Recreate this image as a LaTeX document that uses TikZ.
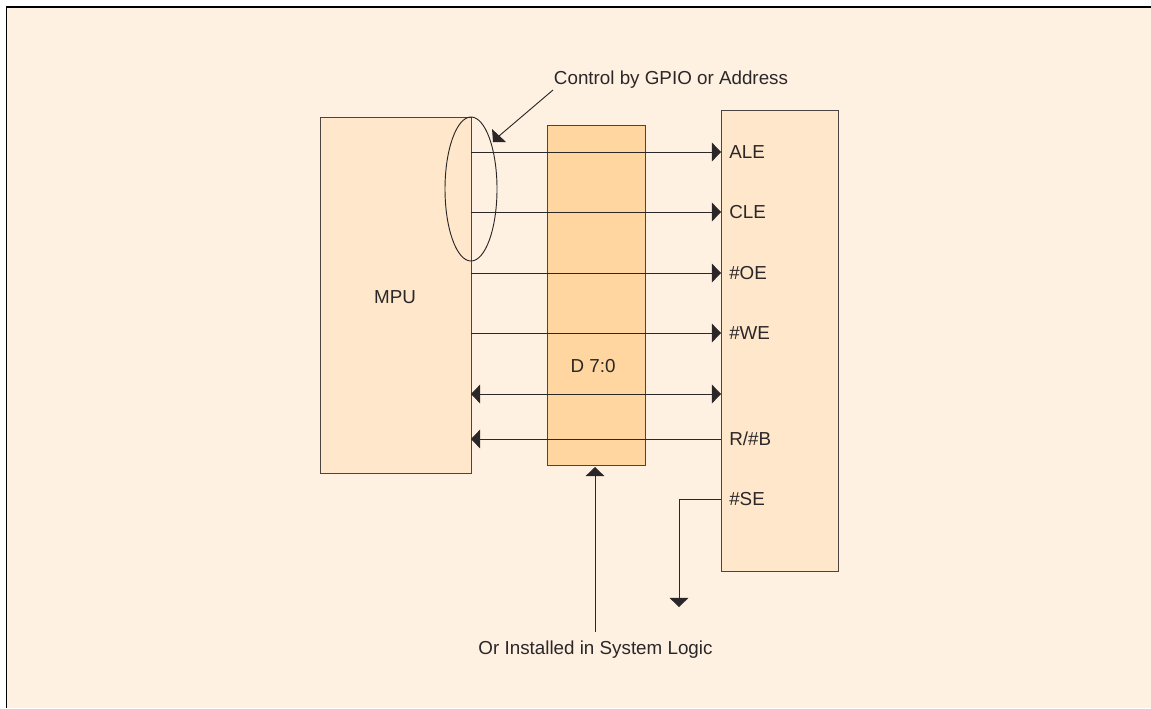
\documentclass[tikz,border=0pt]{standalone}
\usepackage{fontspec}
\setmainfont{Liberation Sans}
\usetikzlibrary{arrows.meta,shapes.geometric}

\definecolor{pagebg}{HTML}{FFF1E2}
\definecolor{chipbg}{HTML}{FFE7CC}
\definecolor{latchbg}{HTML}{FFD6A0}
\definecolor{inkc}{HTML}{2B2728}

\tikzset{
  chip/.style={draw=inkc!85!chipbg,fill=chipbg,line width=0.65pt,inner sep=0pt,outer sep=0pt},
  sig/.style={draw=inkc,line width=0.7pt},
  arr/.style={sig,-{Triangle[length=6.8pt,width=14pt]}},
  arrboth/.style={sig,{Triangle[length=6.8pt,width=14pt]}-{Triangle[length=6.8pt,width=14pt]}},
  lbl/.style={text=inkc,font=\fontsize{14.1pt}{16pt}\selectfont,inner sep=0pt,anchor=base},
  pin/.style={lbl,anchor=base west},
}

\begin{document}
\begin{tikzpicture}[x=0.75pt,y=-0.75pt]

\useasboundingbox (0,0) rectangle (1151,708);

% 背景和外框
\fill[pagebg] (7,7) rectangle (1151,708);
\draw[black,line width=1.4pt] (6.5,708) -- (6.5,6.8) -- (1151,6.8);

% 三个方框
\node[chip,anchor=north west,minimum width=113.25pt,minimum height=267pt] (mpu) at (320,117) {};
\node[chip,fill=latchbg,anchor=north west,minimum width=73.5pt,minimum height=255pt] (latch) at (547,125) {};
\node[chip,anchor=north west,minimum width=87.75pt,minimum height=345.75pt] (nand) at (721,110) {};

\node[lbl] (mpulbl) at (395,303) {MPU};
\node[lbl] (latchlbl) at (593,372) {D 7:0};

% 右侧引脚
\node[pin] (ale) at (729,158) {ALE};
\node[pin] (cle) at (729,218) {CLE};
\node[pin] (oe) at (729,279) {\#OE};
\node[pin] (we) at (729,339) {\#WE};
\node[pin] (rb) at (729,445) {R/\#B};
\node[pin] (se) at (729,505) {\#SE};

% 信号线的高度
\coordinate (aley) at (600,152);
\coordinate (cley) at (600,212);
\coordinate (oey) at (600,273);
\coordinate (wey) at (600,333);
\coordinate (dbus) at (600,394);
\coordinate (rby) at (600,439);
\coordinate (sey) at (600,499);

% 信号线
\draw[arr] (mpu.east |- aley) -- (nand.west |- aley);
\draw[arr] (mpu.east |- cley) -- (nand.west |- cley);
\draw[arr] (mpu.east |- oey) -- (nand.west |- oey);
\draw[arr] (mpu.east |- wey) -- (nand.west |- wey);
\draw[arrboth] (mpu.east |- dbus) -- (nand.west |- dbus);
\draw[arr] (nand.west |- rby) -- (mpu.east |- rby);

% #SE 向下
\coordinate (segnd) at (679,607);
\draw[arr] (nand.west |- sey) -| (segnd);

% 椭圆
\node[draw=inkc,line width=0.7pt,ellipse,inner sep=0pt,outer sep=0pt,minimum width=39pt,minimum height=108pt] (grp) at (471,189) {};

% 上方说明
\node[lbl] (gpio) at (671,84) {Control by GPIO or Address};
\coordinate (gpiofrom) at (553,90);
\coordinate (gpioto) at (499,136);
\draw[sig] (gpiofrom) -- (gpioto);
\fill[inkc] (492,129) -- (506,142) -- (493,142) -- cycle;

% 下方说明
\node[lbl] (logic) at (595.5,654) {Or Installed in System Logic};
\coordinate (logicfrom) at (595,632);
\draw[arr] (logicfrom) -- ([yshift=-1.5pt]latch.south -| logicfrom);

\end{tikzpicture}
\end{document}
